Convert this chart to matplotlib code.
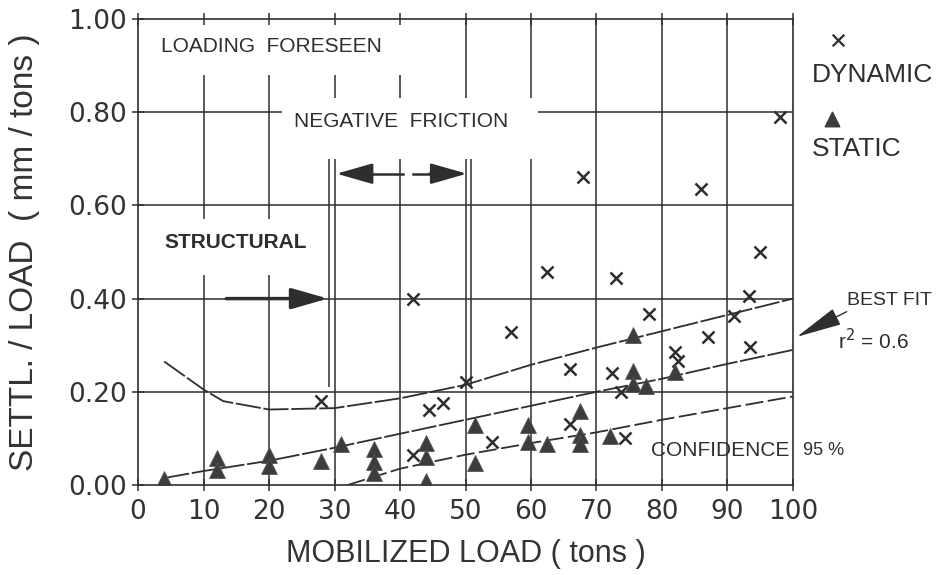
import matplotlib.pyplot as plt

plt.rcParams['font.family'] = ['Liberation Sans', 'DejaVu Sans']

# dynamic load tests (crosses)
dyn_load = [98, 68, 86, 95, 62.5, 73, 42, 93.3, 57, 78, 91, 87, 93.5, 82, 82.5,
            66, 72.3, 73.7, 50, 28, 44.5, 46.5, 54, 42, 66, 74.4]
dyn_ratio = [0.79, 0.66, 0.635, 0.50, 0.457, 0.445, 0.40, 0.405, 0.328, 0.366, 0.362,
             0.318, 0.297, 0.286, 0.267, 0.249, 0.24, 0.20, 0.22, 0.18, 0.16, 0.175,
             0.092, 0.065, 0.13, 0.10]

# static load tests (triangles)
sta_load = [4, 12, 12, 20, 20, 28, 31, 36, 36, 36, 44, 44, 44, 51.5, 51.5, 59.5, 59.5,
            62.5, 67.5, 67.5, 67.5, 72, 75.5, 75.5, 75.5, 77.5, 82]
sta_ratio = [0.012, 0.058, 0.032, 0.065, 0.04, 0.052, 0.088, 0.078, 0.05, 0.026, 0.09,
             0.06, 0.008, 0.128, 0.047, 0.128, 0.093, 0.088, 0.158, 0.108, 0.088, 0.106,
             0.322, 0.244, 0.217, 0.212, 0.243]

# fitted curves
upper_x = [4, 10, 13, 20, 30, 40, 50, 60, 70, 80, 90, 100]
upper_y = [0.265, 0.205, 0.18, 0.162, 0.165, 0.186, 0.215, 0.258, 0.295, 0.33, 0.365, 0.40]
best_x = [4, 10, 20, 30, 40, 50, 60, 70, 80, 90, 100]
best_y = [0.015, 0.03, 0.052, 0.08, 0.11, 0.14, 0.17, 0.20, 0.228, 0.26, 0.29]
lower_x = [32, 40, 50, 60, 70, 80, 90, 100]
lower_y = [0.0, 0.035, 0.065, 0.09, 0.113, 0.14, 0.165, 0.19]

x_ticks = list(range(0, 101, 10))
y_ticks = [0.0, 0.2, 0.4, 0.6, 0.8, 1.0]
y_tick_labels = ['0.00', '0.20', '0.40', '0.60', '0.80', '1.00']

ink = '#2e2e2e'

fig = plt.figure(figsize=(9.39, 5.75), dpi=100)
ax = fig.add_axes([0.147, 0.1565, 0.6975, 0.8105])
ax.set_xlim(0, 100)
ax.set_ylim(0, 1.0)

# grid, broken where the notes sit
glw = 1.1
for x in [10, 20]:
    ax.vlines(x, 0, 0.45, color=ink, lw=glw)
    ax.vlines(x, 0.57, 0.88, color=ink, lw=glw)
for x in [30, 40]:
    ax.vlines(x, 0.83, 0.88, color=ink, lw=glw)
    ax.vlines(x, 0, 0.70, color=ink, lw=glw)
for x in [50, 60]:
    ax.vlines(x, 0.83, 1.0, color=ink, lw=glw)
    ax.vlines(x, 0, 0.70, color=ink, lw=glw)
for x in [70, 80, 90]:
    ax.vlines(x, 0, 1.0, color=ink, lw=glw)
ax.vlines([29.2, 50.8], 0.21, 0.70, color=ink, lw=glw)
ax.hlines(0.8, 0, 22, color=ink, lw=glw)
ax.hlines(0.8, 61, 100, color=ink, lw=glw)
ax.hlines([0.2, 0.4, 0.6], 0, 100, color=ink, lw=glw)

# curves
ax.plot(upper_x, upper_y, color=ink, lw=1.3, dashes=(14, 1.5))
ax.plot(best_x, best_y, color=ink, lw=1.3, dashes=(14, 1.5))
ax.plot(lower_x, lower_y, color=ink, lw=1.3, dashes=(10, 2.5))

# data
ax.scatter(dyn_load, dyn_ratio, marker='x', s=75, color=ink, linewidths=1.8, zorder=4)
ax.scatter(sta_load, sta_ratio, marker='^', s=130, color='#3c3c3c', edgecolors='#555555',
           linewidths=0.6, zorder=4)

# notes
ax.text(3.5, 0.94, 'LOADING  FORESEEN', fontsize=15, color=ink, va='center')
ax.text(23.8, 0.78, 'NEGATIVE  FRICTION', fontsize=15, color=ink, va='center')
ax.text(4, 0.52, 'STRUCTURAL', fontsize=15, color=ink, va='center', fontweight='bold')
ax.text(78.3, 0.075, 'CONFIDENCE', fontsize=15, color=ink, va='center')
ax.text(101.5, 0.075, '95 %', fontsize=13, color=ink, va='center', clip_on=False)

# structural arrow
ax.annotate('', xy=(29, 0.40), xytext=(13.5, 0.40),
            arrowprops=dict(arrowstyle='-|>,head_length=1.4,head_width=0.4',
                            mutation_scale=16, color=ink, lw=2.5, shrinkA=0, shrinkB=0))

# negative friction span
ax.plot([35, 40.5], [0.668, 0.668], color=ink, lw=1.8)
ax.plot([42, 45], [0.668, 0.668], color=ink, lw=1.8)
ax.annotate('', xy=(30.3, 0.668), xytext=(35.5, 0.668),
            arrowprops=dict(arrowstyle='-|>,head_length=1.4,head_width=0.4',
                            mutation_scale=16, color=ink, lw=1.8, shrinkA=0, shrinkB=0))
ax.annotate('', xy=(50.2, 0.668), xytext=(44.5, 0.668),
            arrowprops=dict(arrowstyle='-|>,head_length=1.4,head_width=0.4',
                            mutation_scale=16, color=ink, lw=1.8, shrinkA=0, shrinkB=0))

# key and best fit note beside the frame
ax.scatter([106.8], [0.955], marker='x', s=70, color=ink, linewidths=1.6, clip_on=False)
ax.text(102.9, 0.88, 'DYNAMIC', fontsize=19, color=ink, va='center')
ax.scatter([105.9], [0.785], marker='^', s=110, color='#3c3c3c', clip_on=False)
ax.text(102.9, 0.72, 'STATIC', fontsize=19, color=ink, va='center')
ax.text(108.2, 0.395, 'BEST FIT', fontsize=14, color=ink, va='center')
ax.text(106.8, 0.31, 'r$^2$ = 0.6', fontsize=15, color=ink, va='center')
ax.annotate('', xy=(100.6, 0.318), xytext=(108.2, 0.372),
            arrowprops=dict(arrowstyle='-|>,head_length=1.8,head_width=0.35',
                            mutation_scale=16, color=ink, lw=1.0, shrinkA=0, shrinkB=0),
            annotation_clip=False)

# axes
for s in ax.spines.values():
    s.set_color(ink)
    s.set_linewidth(1.2)
ax.set_xticks(x_ticks)
ax.set_yticks(y_ticks)
ax.set_yticklabels(y_tick_labels)
ax.tick_params(axis='both', direction='inout', length=8, width=1.1, color=ink,
               labelsize=19, labelcolor='#333333', labelfontfamily='DejaVu Sans')
ax.tick_params(axis='y', pad=4)
ax.tick_params(axis='x', top=True, pad=6)
ax.set_xlabel('MOBILIZED LOAD ( tons )', fontsize=22, color='#333333')
ax.set_ylabel('SETTL. / LOAD  ( mm / tons )', fontsize=24, color='#333333')
ax.xaxis.set_label_coords(0.5, -0.115)
ax.yaxis.set_label_coords(-0.15, 0.5)

fig.savefig('out.png', dpi=100)
